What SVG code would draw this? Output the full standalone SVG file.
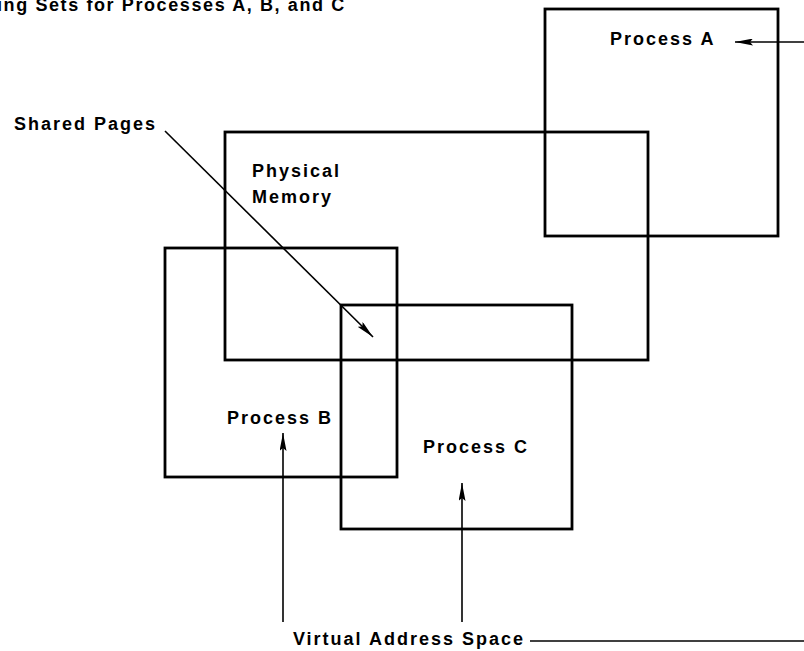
<svg xmlns="http://www.w3.org/2000/svg" width="804" height="651" viewBox="0 0 804 651">
<style>
.box{fill:none;stroke:#000;stroke-width:2.8}
.lbl{font-family:"Liberation Sans",Arial,sans-serif;font-weight:bold;font-size:18px;letter-spacing:2px;fill:#000}
.conn{fill:none;stroke:#000;stroke-width:1.6}
</style>
<defs>
<marker id="ah" viewBox="0 0 18 7" refX="18" refY="3.5" markerWidth="18" markerHeight="7" markerUnits="userSpaceOnUse" orient="auto">
<path d="M0,0 L18,3.5 L0,7 L3,3.5 Z" fill="#000"/>
</marker>
</defs>
<rect width="804" height="651" fill="#fff"/>
<text class="lbl" x="-3" y="11" style="letter-spacing:1.6px">ing Sets for Processes A, B, and C</text>
<g id="physical-memory">
<rect class="box" x="225" y="132" width="423" height="228"/>
<text class="lbl" x="252" y="177">Physical</text>
<text class="lbl" x="252" y="203">Memory</text>
</g>
<g id="process-a">
<rect class="box" x="545" y="9" width="233" height="227"/>
<text class="lbl" x="610" y="45">Process A</text>
</g>
<g id="process-b">
<rect class="box" x="165" y="248" width="232" height="229"/>
<text class="lbl" x="227" y="424">Process B</text>
</g>
<g id="process-c">
<rect class="box" x="341" y="305" width="231" height="224"/>
<text class="lbl" x="423" y="453">Process C</text>
</g>
<g id="shared-pages">
<text class="lbl" x="157" y="130" text-anchor="end">Shared Pages</text>
</g>
<g id="virtual-address-space">
<text class="lbl" x="525" y="645" text-anchor="end">Virtual Address Space</text>
</g>
<g id="connectors">
<line class="conn" x1="165" y1="131" x2="373" y2="337" marker-end="url(#ah)"/>
<line class="conn" x1="283" y1="622" x2="283" y2="433" marker-end="url(#ah)"/>
<line class="conn" x1="462" y1="622" x2="462" y2="483" marker-end="url(#ah)"/>
<line class="conn" x1="530" y1="641" x2="804" y2="641"/>
<line class="conn" x1="804" y1="42" x2="735" y2="42" marker-end="url(#ah)"/>
</g>
</svg>
